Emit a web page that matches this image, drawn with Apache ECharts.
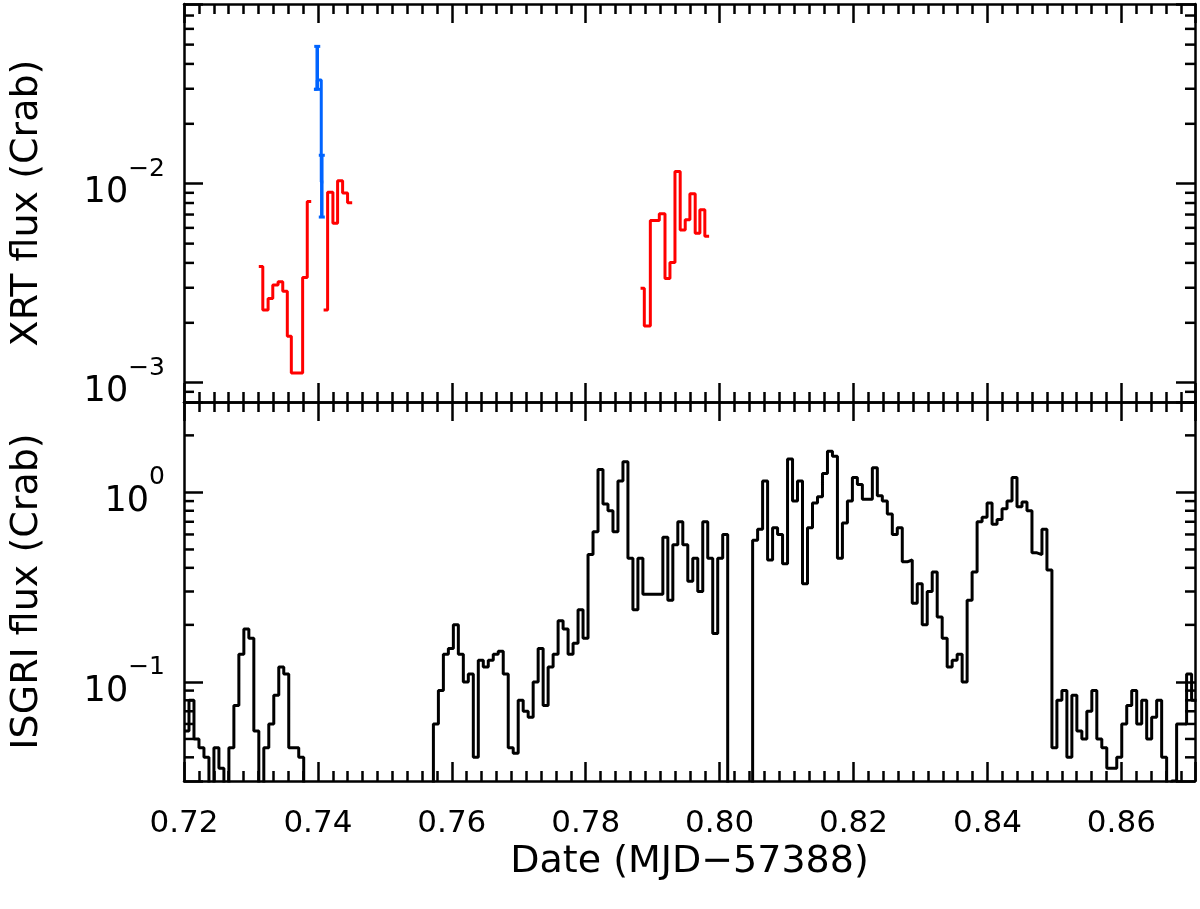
<!DOCTYPE html>
<html><head><meta charset="utf-8">
<script src="https://cdn.jsdelivr.net/npm/echarts@6/dist/echarts.min.js"></script>
<style>html,body{margin:0;padding:0;background:#fff}#c{width:1200px;height:909px}</style>
</head><body><div id="c"></div>
<script>
// ---------------- data ----------------
const X_MIN = 0.72, X_MAX = 0.871;
const X_TICK_LABELS = ['0.72','0.74','0.76','0.78','0.80','0.82','0.84','0.86'];
const XRT_Y_RANGE = [8e-4, 8e-2];
const ISGRI_Y_RANGE = [0.03, 3];
const XRT_MINOR_TICKS = [9e-4, 2e-3, 3e-3, 4e-3, 5e-3, 6e-3, 7e-3, 8e-3, 9e-3, 2e-2, 3e-2, 4e-2, 5e-2, 6e-2, 7e-2];
const ISGRI_MINOR_TICKS = [0.04, 0.05, 0.06, 0.07, 0.08, 0.09, 0.2, 0.3, 0.4, 0.5, 0.6, 0.7, 0.8, 0.9, 2];

// XRT (red) segments: bin edges and fluxes (Crab)
const XRT_RED1_EDGES = [0.73117, 0.73177, 0.73256, 0.73326, 0.73405, 0.73475, 0.73543, 0.73603, 0.73683, 0.73772, 0.73841, 0.73900];
const XRT_RED1_FLUX  = [3.84e-3, 2.32e-3, 2.65e-3, 3.10e-3, 3.22e-3, 2.88e-3, 1.71e-3, 1.12e-3, 1.12e-3, 3.38e-3, 8.15e-3];
const XRT_RED2_EDGES = [0.74085, 0.74145, 0.74224, 0.74294, 0.74369, 0.74443, 0.74512];
const XRT_RED2_FLUX  = [2.32e-3, 9.07e-3, 6.32e-3, 1.035e-2, 8.97e-3, 8.02e-3];
const XRT_RED3_EDGES = [0.78819, 0.78875, 0.78965, 0.79035, 0.79099, 0.79184, 0.79258, 0.79333, 0.79411, 0.79486, 0.79556, 0.79635, 0.79705, 0.79779, 0.79843];
const XRT_RED3_FLUX  = [2.98e-3, 1.93e-3, 6.53e-3, 6.53e-3, 7.06e-3, 3.34e-3, 4.02e-3, 1.153e-2, 5.86e-3, 6.59e-3, 8.91e-3, 5.64e-3, 7.40e-3, 5.45e-3];
// XRT (blue) segment
const XRT_BLUE_EDGES = [0.7394, 0.7399, 0.7405, 0.7408];
const XRT_BLUE_FLUX  = [0.0298, 0.0332, 0.0102];
const XRT_BLUE_ERR_T  = [0.7399, 0.74058];
const XRT_BLUE_ERR_LO = [0.0298, 0.0068];
const XRT_BLUE_ERR_HI = [0.049, 0.0139];

// ISGRI light curve: regular bins starting at ISGRI_T0, width ISGRI_DT
const ISGRI_T0 = 0.72;
const ISGRI_DT = 0.000745;
const ISGRI_FLUX = [
  0.055, 0.08, 0.05, 0.045, 0.04, 0.02, 0.045, 0.035, 0.02, 0.045,
  0.075, 0.14, 0.19, 0.17, 0.055, 0.025, 0.045, 0.06, 0.085, 0.12,
  0.11, 0.045, 0.045, 0.04, 0.02,
  0.01, 0.01, 0.01, 0.01, 0.01, 0.01, 0.01, 0.01, 0.01, 0.01,
  0.01, 0.01, 0.01, 0.01, 0.01, 0.01, 0.01, 0.01, 0.01, 0.01,
  0.01, 0.01, 0.01, 0.01, 0.01,
  0.06, 0.09, 0.14, 0.15, 0.2, 0.14, 0.10, 0.11, 0.04, 0.13,
  0.12, 0.13, 0.14, 0.145, 0.11, 0.045, 0.042, 0.08, 0.07, 0.065,
  0.10, 0.15, 0.075, 0.12, 0.14, 0.21, 0.19, 0.14, 0.16, 0.24,
  0.17, 0.47, 0.62, 1.32, 0.87, 0.8, 0.62, 1.15, 1.45, 0.45,
  0.24, 0.45, 0.29, 0.29, 0.29, 0.29, 0.58, 0.27, 0.53, 0.70,
  0.53, 0.34, 0.45, 0.30, 0.70, 0.45, 0.18, 0.45, 0.60, 0.01,
  0.01, 0.01, 0.01, 0.01, 0.56, 0.64, 1.15, 0.44, 0.65, 0.60,
  0.42, 1.5, 0.9, 1.15, 0.33, 0.65, 0.88, 0.95, 1.26, 1.65,
  1.55, 0.45, 0.69, 0.9, 1.2, 1.1, 0.92, 0.92, 1.35, 0.96,
  0.9, 0.77, 0.6, 0.65, 0.43, 0.44, 0.26, 0.33, 0.2, 0.3,
  0.38, 0.22, 0.17, 0.12, 0.13, 0.14, 0.10, 0.27, 0.38, 0.7,
  0.74, 0.88, 0.68, 0.72, 0.82, 0.9, 1.2, 0.84, 0.89, 0.8,
  0.48, 0.47, 0.64, 0.39, 0.045, 0.08, 0.09, 0.04, 0.085, 0.055,
  0.05, 0.07, 0.09, 0.05, 0.045, 0.035, 0.035, 0.04, 0.06, 0.075,
  0.09, 0.06, 0.08, 0.05, 0.065, 0.08, 0.04, 0.025, 0.03, 0.06,
  0.06, 0.11, 0.08
];

// ---------------- helpers ----------------
function stepData(edges, flux) {
  const d = flux.map((v, i) => [edges[i], v]);
  d.push([edges[flux.length], flux[flux.length - 1]]);
  return d;
}
const isgriEdges = ISGRI_FLUX.map((_, i) => ISGRI_T0 + i * ISGRI_DT).concat([ISGRI_T0 + ISGRI_FLUX.length * ISGRI_DT]);

const FONT = 'DejaVu Sans';
const LINE = {color: '#000', width: 2.5};

function xAxisCfg(gridIndex, position, showLabels, name) {
  return {
    type: 'value', gridIndex, position, min: X_MIN, max: X_MAX, interval: 0.02,
    axisLine: {show: true, onZero: false, lineStyle: LINE},
    axisTick: {show: true, inside: true, length: 19, lineStyle: LINE},
    minorTick: {show: true, splitNumber: 9, length: 10, lineStyle: LINE},
    splitLine: {show: false}, minorSplitLine: {show: false},
    axisLabel: {
      show: showLabels, margin: 27, color: '#000', fontFamily: FONT, fontSize: 31,
      formatter: v => { const s = v.toFixed(2); return (Math.abs(v * 50 - Math.round(v * 50)) < 1e-6 && X_TICK_LABELS.includes(s)) ? s : ''; }
    },
    name: name || '', nameLocation: 'middle', nameGap: 62,
    nameTextStyle: {color: '#000', fontFamily: FONT, fontSize: 38}
  };
}
function yAxisCfg(gridIndex, position, range, showLabels, name) {
  return {
    type: 'log', logBase: 10, gridIndex, position, min: range[0], max: range[1],
    axisLine: {show: true, onZero: false, lineStyle: LINE},
    axisTick: {show: true, inside: true, length: 19, lineStyle: LINE},
    minorTick: {show: false},
    splitLine: {show: false},
    axisLabel: {
      show: showLabels, margin: 19, color: '#000', fontFamily: FONT,
      formatter: v => {
        const e = Math.log10(v), r = Math.round(e);
        if (Math.abs(e - r) > 1e-6) return '';
        return '{b|10}{s|' + (r < 0 ? '\u2212' : '') + Math.abs(r) + '}';
      },
      rich: {
        b: {fontFamily: FONT, fontSize: 35, lineHeight: 54, verticalAlign: 'bottom', color: '#000'},
        s: {fontFamily: FONT, fontSize: 25, lineHeight: 26, verticalAlign: 'top', color: '#000'}
      }
    },
    name: name || '', nameLocation: 'middle', nameGap: 138, nameRotate: 90,
    nameTextStyle: {color: '#000', fontFamily: FONT, fontSize: 38}
  };
}
function minorTicksSeries(ticks, xi, yi) {
  return {
    type: 'custom', xAxisIndex: xi, yAxisIndex: yi, silent: true, z: 5,
    data: ticks.map(v => [X_MIN, v]),
    renderItem: (params, api) => {
      const v = api.value(1);
      const pL = api.coord([X_MIN, v]);
      const pR = api.coord([X_MAX, v]);
      return {type: 'group', children: [
        {type: 'line', shape: {x1: pL[0], y1: pL[1], x2: pL[0] + 10, y2: pL[1]}, style: {stroke: '#000', lineWidth: 2.5}},
        {type: 'line', shape: {x1: pR[0] - 10, y1: pR[1], x2: pR[0], y2: pR[1]}, style: {stroke: '#000', lineWidth: 2.5}}
      ]};
    }
  };
}
function stepSeries(data, color, xi, yi, width) {
  return {type: 'line', step: 'end', xAxisIndex: xi, yAxisIndex: yi, data,
    showSymbol: false, symbol: 'none', lineStyle: {color, width}, itemStyle: {color}, clip: true, z: 3};
}

const chart = echarts.init(document.getElementById('c'), null, {renderer: 'canvas'});
chart.setOption({
  animation: false,
  backgroundColor: '#fff',
  grid: [
    {left: 182, right: 5, top: 4, height: 398, containLabel: false},
    {left: 182, right: 5, top: 402, height: 379, containLabel: false}
  ],
  xAxis: [
    xAxisCfg(0, 'bottom', false),
    xAxisCfg(0, 'top', false),
    xAxisCfg(1, 'bottom', true, 'Date (MJD\u221257388)'),
    xAxisCfg(1, 'top', false)
  ],
  yAxis: [
    yAxisCfg(0, 'left', XRT_Y_RANGE, true, 'XRT flux (Crab)'),
    yAxisCfg(0, 'right', XRT_Y_RANGE, false),
    yAxisCfg(1, 'left', ISGRI_Y_RANGE, true, 'ISGRI flux (Crab)'),
    yAxisCfg(1, 'right', ISGRI_Y_RANGE, false)
  ],
  series: [
    stepSeries(stepData(XRT_RED1_EDGES, XRT_RED1_FLUX), '#ff0000', 0, 0, 3),
    stepSeries(stepData(XRT_RED2_EDGES, XRT_RED2_FLUX), '#ff0000', 0, 0, 3),
    stepSeries(stepData(XRT_RED3_EDGES, XRT_RED3_FLUX), '#ff0000', 0, 0, 3),
    stepSeries(stepData(XRT_BLUE_EDGES, XRT_BLUE_FLUX), '#0064ff', 0, 0, 3),
    {
      type: 'custom', xAxisIndex: 0, yAxisIndex: 0, z: 4,
      data: XRT_BLUE_ERR_T.map((t, i) => [t, XRT_BLUE_ERR_LO[i], XRT_BLUE_ERR_HI[i]]),
      renderItem: (params, api) => {
        const lo = api.coord([api.value(0), api.value(1)]);
        const hi = api.coord([api.value(0), api.value(2)]);
        return {type: 'group', children: [
          {type: 'line', shape: {x1: lo[0], y1: lo[1], x2: hi[0], y2: hi[1]}, style: {stroke: '#0064ff', lineWidth: 3.5}},
          {type: 'line', shape: {x1: lo[0] - 3, y1: lo[1], x2: lo[0] + 3, y2: lo[1]}, style: {stroke: '#0064ff', lineWidth: 3}},
          {type: 'line', shape: {x1: hi[0] - 3, y1: hi[1], x2: hi[0] + 3, y2: hi[1]}, style: {stroke: '#0064ff', lineWidth: 3}}
        ]};
      }
    },
    stepSeries(stepData(isgriEdges, ISGRI_FLUX), '#000000', 2, 2, 3),
    minorTicksSeries(XRT_MINOR_TICKS, 0, 0),
    minorTicksSeries(ISGRI_MINOR_TICKS, 2, 2)
  ]
});
</script>
</body></html>
